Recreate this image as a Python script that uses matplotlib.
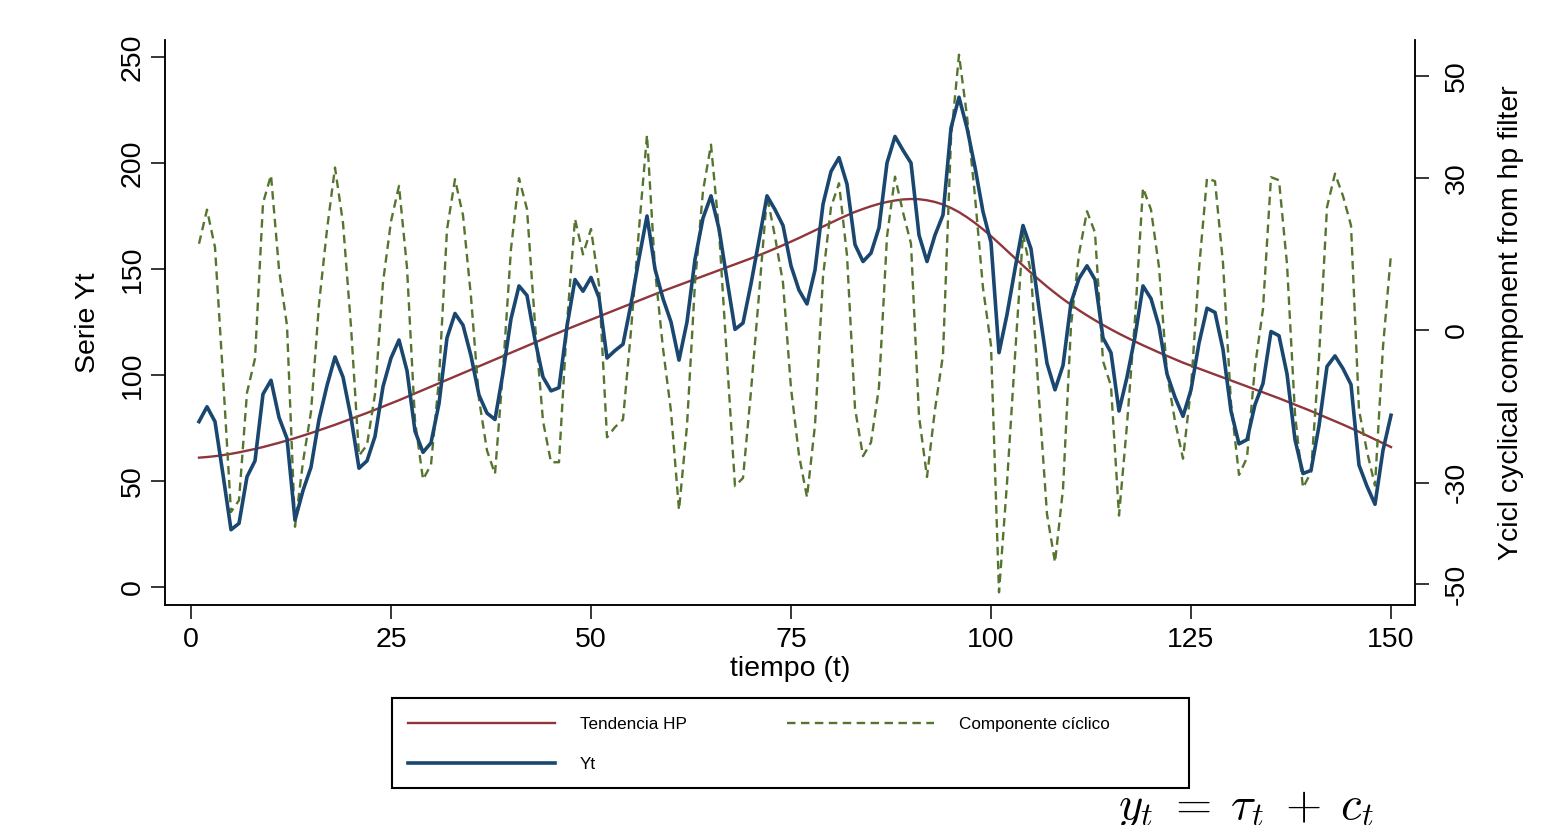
import numpy as np
import matplotlib.pyplot as plt
from matplotlib.patches import Rectangle

plt.rcParams['font.family'] = ['Liberation Sans', 'DejaVu Sans']
plt.rcParams['mathtext.fontset'] = 'cm'
plt.rcParams['axes.unicode_minus'] = False

# series (t = 1..150)
t = np.arange(1, 151)

yt = [78, 85, 78, 53, 27, 30, 52, 59.5, 91, 97.5,
      80, 70, 31.5, 45.5, 56.5, 79, 95, 108.5, 99, 80,
      56, 59.5, 71, 94.5, 108, 116.5, 102, 73.5, 63.5, 68,
      86.5, 117.5, 129, 123.5, 109, 90.5, 82, 79, 101, 126.5,
      142, 137.5, 116.5, 99, 92.5, 94, 123, 145, 139.5, 146,
      136.5, 108, 111.5, 114.5, 133.5, 155, 175, 150, 136, 125,
      107, 125, 154.5, 174, 184.5, 169, 145, 121.5, 124.5, 143,
      163.5, 184.5, 178, 170.5, 151.5, 140, 133.5, 149.5, 180.5, 196,
      202.5, 190, 161.5, 153.5, 157.5, 169.5, 200, 212.5, 206, 200,
      166, 153.5, 166, 175.5, 216.5, 231, 216.5, 198, 177, 162.5,
      110.5, 128.5, 150, 170.5, 159.5, 131.5, 105.5, 93, 104.5, 134,
      145.5, 151.5, 145, 117.5, 110.5, 83, 99, 118, 142, 136,
      123, 100.5, 89.5, 80.5, 93, 115, 131.5, 129.5, 112, 83,
      67.5, 69.5, 86, 96, 120.5, 118.5, 100.5, 69.5, 53.5, 55,
      76, 104, 109, 103, 95.5, 57.5, 47.5, 39, 64.5, 81]

trend = [61.0, 61.3, 61.7, 62.2, 62.8, 63.5, 64.3, 65.1, 66.0, 67.0,
         68.0, 69.1, 70.2, 71.4, 72.6, 73.9, 75.2, 76.5, 77.9, 79.3,
         80.7, 82.1, 83.6, 85.1, 86.6, 88.1, 89.7, 91.3, 92.9, 94.5,
         96.1, 97.7, 99.3, 100.9, 102.5, 104.1, 105.7, 107.3, 108.9, 110.5,
         112.1, 113.7, 115.3, 116.9, 118.5, 120.0, 121.6, 123.1, 124.6, 126.1,
         127.6, 129.1, 130.6, 132.1, 133.6, 135.1, 136.6, 138.1, 139.6, 141.0,
         142.4, 143.8, 145.2, 146.6, 148.0, 149.4, 150.8, 152.2, 153.6, 155.0,
         156.5, 158.0, 159.6, 161.2, 162.9, 164.6, 166.4, 168.2, 170.0, 171.8,
         173.6, 175.3, 176.9, 178.3, 179.6, 180.7, 181.6, 182.3, 182.8, 183.0,
         182.9, 182.4, 181.6, 180.4, 178.8, 176.8, 174.4, 171.7, 168.7, 165.5,
         162.1, 158.6, 155.1, 151.6, 148.2, 144.9, 141.7, 138.7, 135.8, 133.1,
         130.5, 128.1, 125.8, 123.6, 121.5, 119.5, 117.6, 115.8, 114.0, 112.3,
         110.6, 109.0, 107.4, 105.8, 104.4, 103.0, 101.6, 100.2, 98.8, 97.4,
         96.0, 94.6, 93.2, 91.8, 90.4, 89.0, 87.5, 86.0, 84.5, 83.0,
         81.4, 79.8, 78.2, 76.6, 74.9, 73.2, 71.4, 69.6, 67.8, 66.0]

cycle = [17.0, 23.7, 16.3, -9.2, -35.8, -33.5, -12.3, -5.6, 25.0, 30.5,
         12.0, 0.9, -38.7, -25.9, -16.1, 5.1, 19.8, 32.0, 21.1, 0.7,
         -24.7, -22.6, -12.6, 9.4, 21.4, 28.4, 12.3, -17.8, -29.4, -26.5,
         -9.6, 19.8, 29.7, 22.6, 6.5, -13.6, -23.7, -28.3, -7.9, 16.0,
         29.9, 23.8, 1.2, -17.9, -26.0, -26.0, 1.4, 21.9, 14.9, 19.9,
         8.9, -21.1, -19.1, -17.6, -0.1, 19.9, 38.4, 11.9, -3.6, -16.0,
         -35.4, -18.8, 9.3, 27.4, 36.5, 19.6, -5.8, -30.7, -29.1, -12.0,
         7.0, 26.5, 18.4, 9.3, -11.4, -24.6, -32.9, -18.7, 10.5, 24.2,
         28.9, 14.7, -15.4, -24.8, -22.1, -11.2, 18.4, 30.2, 23.2, 17.0,
         -16.9, -28.9, -15.6, -4.9, 37.7, 54.2, 42.1, 26.3, 8.3, -3.0,
         -51.6, -30.1, -5.1, 18.9, 11.3, -13.4, -36.2, -45.7, -31.3, 0.9,
         15.0, 23.4, 19.2, -6.1, -11.0, -36.5, -18.6, 2.2, 28.0, 23.7,
         12.4, -8.5, -17.9, -25.3, -11.4, 12.0, 29.9, 29.3, 13.2, -14.4,
         -28.5, -25.1, -7.2, 4.2, 30.1, 29.5, 13.0, -16.5, -31.0, -28.0,
         -5.4, 24.2, 30.8, 26.4, 20.6, -15.7, -23.9, -30.6, -3.3, 15.0]

x_ticks = [0, 25, 50, 75, 100, 125, 150]
left_ticks = [0, 50, 100, 150, 200, 250]
right_ticks = [-50, -30, 0, 30, 50]

navy = '#1a476f'
maroon = '#90353b'
green = '#55752f'

W, H = 1556, 825
fig = plt.figure(figsize=(W / 100, H / 100), dpi=100)
ax = fig.add_axes([165 / W, 1 - 605 / H, 1250 / W, 565 / H])
ax2 = ax.twinx()

# trend below, cycle on the second axis, Yt on top (left scale)
l_trend, = ax.plot(t, trend, color=maroon, lw=1.7)
l_cyc, = ax2.plot(t, cycle, color=green, lw=1.7, dashes=(3.6, 2.3))
l_yt, = ax2.plot(t, yt, color=navy, lw=2.6, transform=ax.transData)

ax.set_xlim(-3.25, 153)
ax.set_ylim(-8.5, 258)
ax2.set_ylim(-54.1, 57.1)

ax.set_xticks(x_ticks)
ax.set_yticks(left_ticks)
ax2.set_yticks(right_ticks)

for a in (ax, ax2):
    a.spines['top'].set_visible(False)
    for s in a.spines.values():
        s.set_linewidth(1.1)
    a.tick_params(direction='out', length=10, width=1.1, labelsize=20.5)

ax.tick_params(axis='y', labelrotation=90, pad=4)
ax2.tick_params(axis='y', labelrotation=90, pad=11)
ax.tick_params(axis='x', pad=6)
for lab in ax.get_yticklabels() + ax2.get_yticklabels():
    lab.set_va('center')

ax.set_xlabel('tiempo (t)', fontsize=20.5, labelpad=2)
ax.set_ylabel('Serie Yt', fontsize=20.5, labelpad=13)
ax2.set_ylabel('Ycicl cyclical component from hp filter', fontsize=20.5, labelpad=20)

# legend box
fs = 12.3
leg = fig.legend([l_trend, l_yt, l_cyc], ['Tendencia HP', 'Yt', 'Componente cíclico'],
                 ncol=2, loc='upper left', bbox_to_anchor=(408 / W, 1 - 717 / H),
                 frameon=False, fontsize=fs, handlelength=8.6, handletextpad=1.45,
                 columnspacing=5.9, labelspacing=1.48, borderpad=0, borderaxespad=0)
fig.patches.append(Rectangle((392 / W, 1 - 788 / H), 797 / W, 90 / H,
                             transform=fig.transFigure, fill=False,
                             edgecolor='black', lw=1.5))

fig.text(1118 / W, 7 / H, r'$y_t\;=\;\tau_t\;+\;c_t$', fontsize=33.5,
         ha='left', va='baseline')

fig.savefig('out.png', dpi=100, facecolor='white')
